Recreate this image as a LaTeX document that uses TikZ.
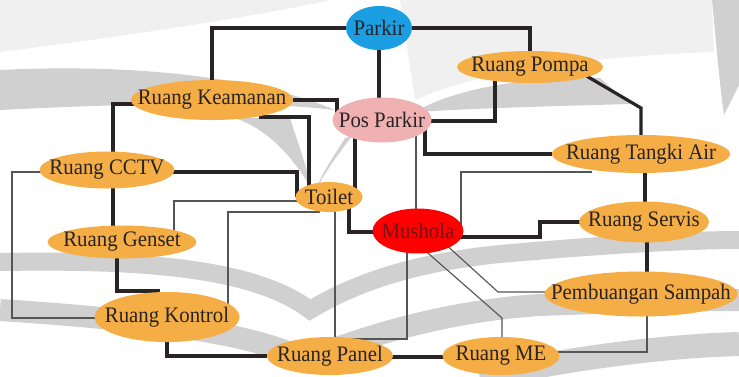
\documentclass[tikz,border=0pt]{standalone}
\usepackage{fontspec}
\setmainfont{Liberation Serif}[FakeStretch=0.94]
\usetikzlibrary{shapes.geometric,calc}

\definecolor{roomfill}{RGB}{245,173,69}
\definecolor{parkfill}{RGB}{27,158,226}
\definecolor{posfill}{RGB}{240,177,179}
\definecolor{mushfill}{RGB}{255,0,0}
\definecolor{inkdark}{RGB}{40,35,36}
\definecolor{mushtext}{RGB}{120,16,20}
\definecolor{thinline}{RGB}{85,85,85}
\definecolor{wmgray}{RGB}{208,208,208}
\definecolor{wmlight}{RGB}{240,240,240}

\pgfdeclarelayer{watermark}
\pgfdeclarelayer{links}
\pgfsetlayers{watermark,links,main}

% the label is boxed at zero width so that the ellipse keeps the given size
\newcommand\roomlabel[1]{\makebox[0pt][c]{#1}}

\tikzset{
  room/.style 2 args={ellipse, draw=none, fill=roomfill, inner sep=0pt,
    minimum width=#1*0.75pt, minimum height=#2*0.75pt,
    text=inkdark, font=\fontsize{16.6}{18}\selectfont},
  mainlink/.style={draw=inkdark, line width=2.4pt},
  sidelink/.style={draw=thinline, line width=0.85pt},
  wmband/.style={draw=wmgray, line width=#1*0.75pt},
}

\begin{document}
\begin{tikzpicture}[x=0.75pt,y=-0.75pt]
\useasboundingbox (0,0) rectangle (739,376);

% rooms
\node[room={66}{44}, fill=parkfill] (park) at (379,28) {\roomlabel{Parkir}};
\node[room={146}{32}] (pompa) at (530,67) {\roomlabel{Ruang Pompa}};
\node[room={162}{40}] (keam) at (212,100) {\roomlabel{Ruang Keamanan}};
\node[room={99}{45}, fill=posfill] (pos) at (382,120) {\roomlabel{Pos Parkir}};
\node[room={178}{38}] (tangki) at (641,154) {\roomlabel{Ruang Tangki Air}};
\node[room={135}{37}] (cctv) at (107,170) {\roomlabel{Ruang CCTV}};
\node[room={67}{30}] (toilet) at (329,197) {\roomlabel{Toilet}};
\node[room={91}{45}, fill=mushfill, text=mushtext] (mush) at (418,231) {\roomlabel{Mushola}};
\node[room={130}{41}] (servis) at (644,222) {\roomlabel{Ruang Servis}};
\node[room={149}{33}] (genset) at (122,242) {\roomlabel{Ruang Genset}};
\node[room={193}{45}] (sampah) at (641,294) {\roomlabel{Pembuangan Sampah}};
\node[room={145}{50}] (kontrol) at (167,317) {\roomlabel{Ruang Kontrol}};
\node[room={126}{38}] (panel) at (330,356) {\roomlabel{Ruang Panel}};
\node[room={117}{38}] (me) at (501,356) {\roomlabel{Ruang ME}};

% faint logo behind the plan
\begin{pgfonlayer}{watermark}
  \fill[wmlight] (0,0) -- (330,0) .. controls (250,18) and (110,38) .. (0,52) -- cycle;
  \fill[wmlight] (400,0) -- (712,0) -- (714,52)
    .. controls (600,56) and (480,70) .. (415,100) -- cycle;
  \fill[wmgray] (0,70) .. controls (120,64) and (250,74) .. (335,110)
    .. controls (250,100) and (120,104) .. (0,110) -- cycle;
  \fill[wmgray] (235,118) .. controls (270,130) and (295,160) .. (312,190)
    .. controls (305,160) and (295,135) .. (290,118) -- cycle;
  \fill[wmgray] (345,138) .. controls (335,155) and (322,172) .. (316,190)
    .. controls (326,170) and (340,152) .. (352,136) -- cycle;
  \fill[wmgray] (415,112) .. controls (455,88) and (530,76) .. (600,78)
    -- (630,104) .. controls (560,106) and (480,108) .. (415,112) -- cycle;
  \fill[wmgray] (712,0) -- (739,0) -- (739,85) -- (724,115)
    .. controls (719,80) and (716,40) .. (712,0) -- cycle;
  \draw[wmband=18] (0,262) .. controls (130,260) and (250,265) .. (310,310)
    .. controls (360,280) and (420,262) .. (500,254)
    .. controls (590,246) and (680,240) .. (739,240);
  \draw[wmband=22] (0,310) .. controls (120,318) and (250,330) .. (305,360)
    .. controls (380,330) and (460,310) .. (540,305)
    .. controls (620,302) and (690,300) .. (739,300);
  \draw[wmband=24] (480,378) .. controls (560,360) and (660,346) .. (739,344);
\end{pgfonlayer}

% corridors between rooms
\begin{pgfonlayer}{links}
  % main corridors
  \draw[mainlink] (park) -| (keam);
  \draw[mainlink] (park) -| (pompa);
  \draw[mainlink] (park) -- (park |- pos);
  \draw[mainlink] (keam) -| ($(pos.center)+(-45,0)$);
  \draw[mainlink] ($(keam.center)+(49,0)$) -- ++(0,17) -| ($(toilet.center)+(-20,0)$);
  \draw[mainlink] ($(cctv.center)+(0,2)$) -| ($(toilet.center)+(-32,0)$);
  \draw[mainlink] ($(keam.center)+(0,4)$) -| ($(cctv.center)+(6,0)$);
  \draw[mainlink] ($(pos.center)+(0,1)$) -| ($(pompa.center)+(-35,0)$);
  \draw[mainlink] ($(pos.center)+(43,0)$) |- (tangki);
  \draw[mainlink] ($(pompa.center)+(48,4)$) -- ($(tangki.center)+(0,-46)$) -- (tangki.center);
  \draw[mainlink] ($(pos.center)+(-27,0)$) -- ($(toilet.center)+(26,0)$);
  \draw[mainlink] ($(toilet.center)+(20,0)$) |- ($(mush.center)+(0,1)$);
  \draw[mainlink] ($(mush.center)+(0,6)$) -| ($(servis.center)+(-104,0)$) -- (servis.center);
  \draw[mainlink] ($(tangki.center)+(4,0)$) -- ($(servis.center)+(1,0)$);
  \draw[mainlink] ($(servis.center)+(3,0)$) -- ($(sampah.center)+(6,0)$);
  \draw[mainlink] ($(cctv.center)+(6,0)$) -- ($(genset.center)+(-9,0)$);
  \draw[mainlink] ($(genset.center)+(-5,0)$) |- ($(kontrol.center)+(-7,-26)$);
  \draw[mainlink] (kontrol) |- (panel);
  \draw[mainlink] ($(panel.center)+(0,1)$) -- ($(me.center)+(0,1)$);
  % secondary links
  \draw[sidelink] ($(cctv.center)+(0,2)$) -- ++(-95,0) |- ($(kontrol.center)+(0,1)$);
  \draw[sidelink] ($(genset.center)+(52,0)$) |- ($(toilet.center)+(0,4)$);
  \draw[sidelink] ($(kontrol.center)+(61,0)$) |- ($(toilet.center)+(-9,15)$);
  \draw[sidelink] ($(toilet.center)+(6,0)$) -- ($(panel.center)+(5,0)$);
  \draw[sidelink] ($(mush.center)+(-11,0)$) |- ($(panel.center)+(22,-17)$);
  \draw[sidelink] ($(pos.center)+(34,0)$) -- ($(mush.center)+(-2,0)$);
  \draw[sidelink] ($(tangki.center)+(-49,18)$) -| ($(mush.center)+(43,0)$);
  \draw[sidelink] ($(mush.center)+(25,11)$) -- ($(sampah.center)+(-143,-2)$) -- ($(sampah.center)+(0,-2)$);
  \draw[sidelink] ($(mush.center)+(3,16)$) -- ($(me.center)+(1,-38)$) -- ($(me.center)+(1,0)$);
  \draw[sidelink] ($(sampah.center)+(6,0)$) |- ($(me.center)+(0,-4)$);
\end{pgfonlayer}
\end{tikzpicture}
\end{document}
